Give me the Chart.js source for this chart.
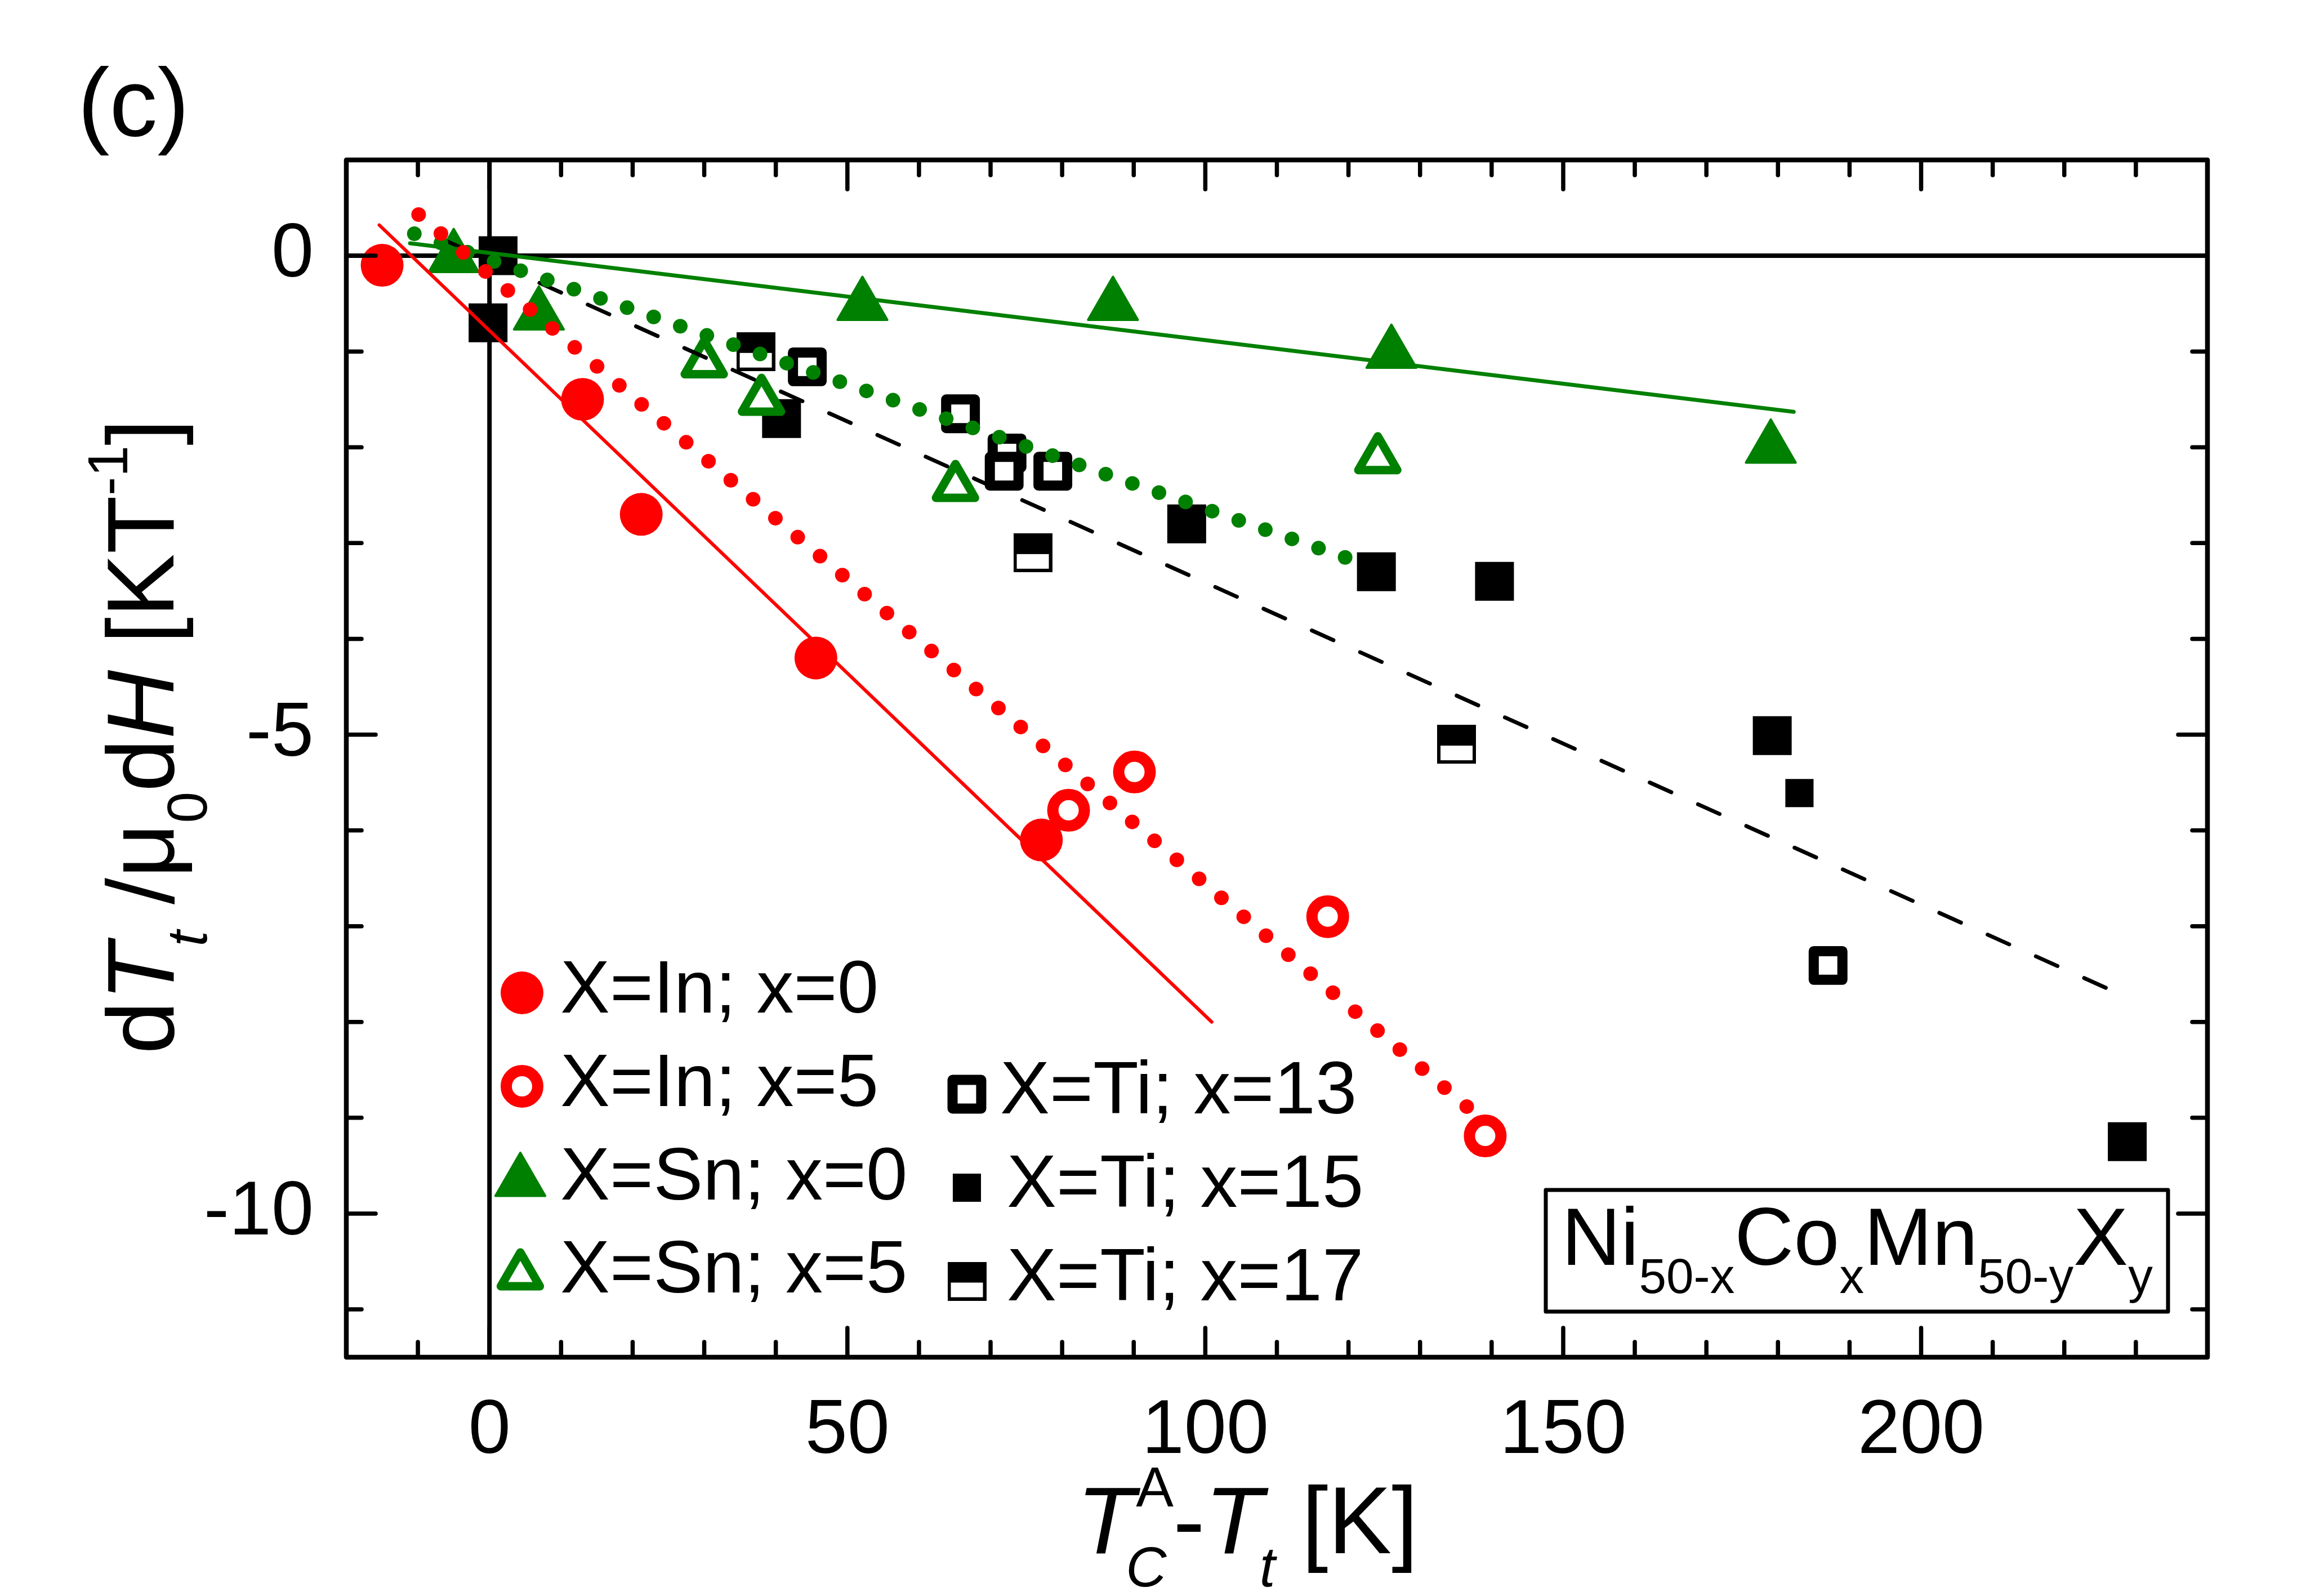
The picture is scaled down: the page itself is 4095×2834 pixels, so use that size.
<!DOCTYPE html>
<html>
<head>
<meta charset="utf-8">
<script src="https://cdn.jsdelivr.net/npm/chart.js@4.4.1/dist/chart.umd.min.js"></script>
<style>
  html, body { margin: 0; padding: 0; background: #fff; }
  canvas { display: block; }
</style>
</head>
<body>
<canvas id="chart" width="4095" height="2834"></canvas>
<script>
// values: x = T_C^A - T_t [K], y = dT_t / mu0 dH [K/T]
const inX0T = [-15.0, 13.0, 21.2, 45.6, 77.1];
const inX0dT = [-0.10, -1.50, -2.70, -4.20, -6.10];

const inX5T = [80.9, 90.1, 117.1, 139.1];
const inX5dT = [-5.79, -5.39, -6.90, -9.19];

const snX0T = [-5.0, 6.9, 52.1, 87.1, 126.0, 179.0];
const snX0dT = [-0.02, -0.62, -0.52, -0.52, -1.02, -2.01];

const snX5T = [30.0, 38.0, 65.1, 124.1];
const snX5dT = [-1.12, -1.51, -2.41, -2.12];

const ti13T = [44.4, 65.8, 72.3, 71.9, 78.7, 187.0];
const ti13dT = [-1.16, -1.65, -2.06, -2.25, -2.25, -7.41];

const ti15T = [183.0];
const ti15dT = [-5.61];

// big filled squares (no own legend entry)
const tiBigT = [1.2, -0.2, 40.8, 97.4, 123.9, 140.4, 179.2, 228.8];
const tiBigdT = [0.0, -0.70, -1.70, -2.80, -3.30, -3.40, -5.01, -9.25];

const ti17T = [37.2, 75.9, 135.1];
const ti17dT = [-1.00, -3.10, -5.10];

// fitted lines (end points)
const inX0FitT = [-15.4, 100.9];
const inX0FitdT = [0.32, -8.0];
const inX5FitT = [-9.9, 137.1];
const inX5FitdT = [0.43, -8.92];
const snX0FitT = [-11.1, 182.2];
const snX0FitdT = [0.13, -1.63];
const snX5FitT = [-10.5, 120.7];
const snX5FitdT = [0.23, -3.18];
const tiFitT = [-6.5, 226.6];
const tiFitdT = [0.17, -7.67];

const xTickValues = [0, 50, 100, 150, 200];
const yTickValues = [-10, -5, 0];

const legendLabels = ["X=In; x=0", "X=In; x=5", "X=Sn; x=0", "X=Sn; x=5", "X=Ti; x=13", "X=Ti; x=15", "X=Ti; x=17"];

const RED = "#ff0000";
const GREEN = "#008000";
const FONT = '"Liberation Sans", Arial, sans-serif';

function toPoints(xs, ys) {
  return xs.map((x, i) => ({ x, y: ys[i] }));
}

// half filled square marker
const halfSquare = (() => {
  const c = document.createElement("canvas");
  c.width = 69;
  c.height = 69;
  const g = c.getContext("2d");
  g.fillStyle = "#000";
  g.fillRect(0, 0, 69, 69);
  g.fillStyle = "#fff";
  g.fillRect(6, 37, 57, 26);
  return c;
})();

const styles = {
  inX0: { pointStyle: "circle", radius: 38, borderWidth: 0, bg: RED, border: RED },
  inX5: { pointStyle: "circle", radius: 28, borderWidth: 20, bg: "#fff", border: RED },
  snX0: { pointStyle: "triangle", radius: 51, borderWidth: 4, bg: GREEN, border: GREEN },
  snX5: { pointStyle: "triangle", radius: 40, borderWidth: 15, bg: "#fff", border: GREEN },
  ti13: { pointStyle: "rect", radius: 36, borderWidth: 18, bg: "#fff", border: "#000" },
  ti15: { pointStyle: "rect", radius: 35.4, borderWidth: 0, bg: "#000", border: "#000" },
  tiBig: { pointStyle: "rect", radius: 48.8, borderWidth: 0, bg: "#000", border: "#000" },
  ti17: { pointStyle: halfSquare, radius: 35, borderWidth: 0, bg: "#000", border: "#000" }
};

function markerSet(label, xs, ys, st, order) {
  return {
    label,
    data: toPoints(xs, ys),
    showLine: false,
    pointStyle: st.pointStyle,
    pointRadius: st.radius,
    pointBorderWidth: st.borderWidth,
    pointBackgroundColor: st.bg,
    pointBorderColor: st.border,
    order
  };
}

function lineSet(xs, ys, color, width, dash, cap) {
  return {
    label: "",
    data: toPoints(xs, ys),
    showLine: true,
    pointRadius: 0,
    borderColor: color,
    borderWidth: width,
    borderDash: dash,
    borderCapStyle: cap,
    tension: 0,
    order: 0
  };
}

function drawRuns(ctx, runs, x, y, k) {
  const s = k || 1;
  let cx = x;
  runs.forEach((r) => {
    ctx.font = (r.it ? "italic " : "") + (r.size * s) + "px " + FONT;
    ctx.fillText(r.t, cx + (r.dx || 0), y + (r.dy || 0));
    cx += ctx.measureText(r.t).width + (r.dx || 0);
  });
  return cx;
}

function runsWidth(ctx, runs) {
  let w = 0;
  runs.forEach((r) => {
    ctx.font = (r.it ? "italic " : "") + r.size + "px " + FONT;
    w += ctx.measureText(r.t).width + (r.dx || 0);
  });
  return w;
}

function drawMarker(ctx, st, x, y) {
  ctx.save();
  ctx.fillStyle = st.bg;
  ctx.strokeStyle = st.border;
  ctx.lineWidth = st.borderWidth;
  ctx.lineJoin = "round";
  Chart.helpers.drawPoint(ctx, { pointStyle: st.pointStyle, radius: st.radius, borderWidth: st.borderWidth, rotation: 0 }, x, y);
  ctx.restore();
}

const framePlugin = {
  id: "framePlugin",
  beforeDatasetsDraw(chart) {
    const { ctx, chartArea: a, scales } = chart;
    const x0 = scales.x.getPixelForValue(0);
    const y0 = scales.y.getPixelForValue(0);
    ctx.save();
    ctx.strokeStyle = "#000";
    ctx.lineWidth = 8;
    ctx.beginPath();
    ctx.moveTo(x0, a.top);
    ctx.lineTo(x0, a.bottom);
    ctx.moveTo(a.left, y0);
    ctx.lineTo(a.right, y0);
    ctx.stroke();
    ctx.restore();
    ctx.lineJoin = "round";
  },
  afterDatasetsDraw(chart) {
    const { ctx, chartArea: a, scales } = chart;
    const xs = scales.x;
    const ys = scales.y;
    ctx.save();
    ctx.strokeStyle = "#000";
    ctx.lineCap = "round";
    ctx.lineWidth = 7.5;
    ctx.beginPath();
    for (let v = Math.ceil(xs.min / 10) * 10; v < xs.max; v += 10) {
      if (v <= xs.min) continue;
      const px = xs.getPixelForValue(v);
      const len = v % 50 === 0 ? 52 : 27;
      ctx.moveTo(px, a.top);
      ctx.lineTo(px, a.top + len);
      ctx.moveTo(px, a.bottom);
      ctx.lineTo(px, a.bottom - len);
    }
    for (let v = Math.ceil(ys.min); v < ys.max; v += 1) {
      if (v <= ys.min) continue;
      const py = ys.getPixelForValue(v);
      const len = v % 5 === 0 ? 52 : 27;
      ctx.moveTo(a.left, py);
      ctx.lineTo(a.left + len, py);
      ctx.moveTo(a.right, py);
      ctx.lineTo(a.right - len, py);
    }
    ctx.stroke();
    ctx.lineWidth = 8.5;
    ctx.lineJoin = "round";
    ctx.strokeRect(a.left, a.top, a.right - a.left, a.bottom - a.top);
    ctx.restore();
  },
  afterDraw(chart) {
    const ctx = chart.ctx;
    ctx.save();
    ctx.fillStyle = "#000";
    ctx.textBaseline = "alphabetic";
    ctx.textAlign = "left";

    // panel label
    ctx.font = "170px " + FONT;
    ctx.fillText("(c)", 138, 241);

    // x title
    let cx = 1912;
    const base = 2758;
    ctx.font = "italic 169px " + FONT;
    ctx.fillText("T", cx, base);
    cx += ctx.measureText("T").width;
    ctx.font = "100px " + FONT;
    ctx.fillText("A", cx + 2, base - 83);
    ctx.font = "italic 100px " + FONT;
    ctx.fillText("C", cx - 16, base + 59);
    cx += 68;
    drawRuns(ctx, [
      { t: "-", size: 169 },
      { t: "T", size: 169, it: true },
      { t: "t", size: 100, it: true, dy: 59, dx: -6 },
      { t: " [K]", size: 169 }
    ], cx, base);

    // y title (rotated)
    const yRuns = [
      { t: "d", size: 169 },
      { t: "T", size: 169, it: true },
      { t: "t", size: 100, it: true, dy: 59, dx: -6 },
      { t: " /\u03bc", size: 169 },
      { t: "0", size: 100, dy: 59 },
      { t: "d", size: 169 },
      { t: "H", size: 169, it: true },
      { t: " [KT", size: 169 },
      { t: "-1", size: 100, dy: -82 },
      { t: "]", size: 169 }
    ];
    const yw = runsWidth(ctx, yRuns);
    ctx.save();
    ctx.translate(308, 1308);
    ctx.rotate(-Math.PI / 2);
    drawRuns(ctx, yRuns, -yw / 2, 0);
    ctx.restore();

    // legend
    const leftCol = [
      [styles.inX0, 927, 1763, 1798],
      [styles.inX5, 927, 1929, 1964],
      [styles.snX0, 924, 2098, 2130],
      [styles.snX5, 924, 2264, 2295]
    ];
    leftCol.forEach((e, i) => {
      drawMarker(ctx, e[0], e[1], e[2]);
      ctx.fillStyle = "#000";
      ctx.font = "132px " + FONT;
      ctx.fillText(legendLabels[i], 995, e[3]);
    });
    const rightCol = [
      [styles.ti13, 1717, 1943, 1776, 1977],
      [styles.ti15, 1717, 2109, 1788, 2143],
      [styles.ti17, 1717, 2275, 1788, 2309]
    ];
    rightCol.forEach((e, i) => {
      drawMarker(ctx, e[0], e[1], e[2]);
      ctx.fillStyle = "#000";
      ctx.font = "132px " + FONT;
      ctx.fillText(legendLabels[4 + i], e[3], e[4]);
    });

    // composition box
    ctx.strokeStyle = "#000";
    ctx.lineWidth = 7;
    ctx.strokeRect(2745, 2113, 1105, 216);
    ctx.fillStyle = "#000";
    const boxRuns = [
      { t: "Ni", size: 150 },
      { t: "50-x", size: 90, dy: 50 },
      { t: "Co", size: 150 },
      { t: "x", size: 90, dy: 50 },
      { t: "Mn", size: 150 },
      { t: "50-y", size: 90, dy: 50 },
      { t: "X", size: 150 },
      { t: "y", size: 90, dy: 50 }
    ];
    const bw = runsWidth(ctx, boxRuns);
    const k = Math.min(1, 1050 / bw);
    drawRuns(ctx, boxRuns, 2773, 2246, k);
    ctx.restore();
  }
};

const datasets = [
  lineSet(inX0FitT, inX0FitdT, RED, 6, [], "round"),
  lineSet(inX5FitT, inX5FitdT, RED, 26, [0, 52], "round"),
  lineSet(snX0FitT, snX0FitdT, GREEN, 7, [], "round"),
  lineSet(snX5FitT, snX5FitdT, GREEN, 26, [0, 50], "round"),
  lineSet(tiFitT, tiFitdT, "#000", 7, [42, 52], "round"),
  markerSet(legendLabels[2], snX0T, snX0dT, styles.snX0, 1),
  markerSet(legendLabels[3], snX5T, snX5dT, styles.snX5, 1),
  markerSet(legendLabels[0], inX0T, inX0dT, styles.inX0, 2),
  markerSet(legendLabels[1], inX5T, inX5dT, styles.inX5, 2),
  markerSet(legendLabels[4], ti13T, ti13dT, styles.ti13, 3),
  markerSet(legendLabels[5], ti15T, ti15dT, styles.ti15, 3),
  markerSet(legendLabels[5], tiBigT, tiBigdT, styles.tiBig, 4),
  markerSet(legendLabels[6], ti17T, ti17dT, styles.ti17, 3)
];

new Chart(document.getElementById("chart").getContext("2d"), {
  type: "scatter",
  data: { datasets },
  options: {
    responsive: false,
    animation: false,
    devicePixelRatio: 1,
    events: [],
    layout: { padding: { top: 284, right: 175, left: 0, bottom: 0 } },
    plugins: {
      legend: { display: false },
      tooltip: { enabled: false }
    },
    scales: {
      x: {
        type: "linear",
        min: -20,
        max: 240,
        afterBuildTicks(scale) {
          scale.ticks = xTickValues.map((v) => ({ value: v }));
        },
        afterFit(scale) {
          scale.height = 424;
        },
        grid: { display: false, drawTicks: false },
        border: { display: false },
        ticks: {
          color: "#000",
          padding: 52,
          maxRotation: 0,
          autoSkip: false,
          font: { family: FONT, size: 135 },
          callback: (v) => String(v)
        }
      },
      y: {
        type: "linear",
        min: -11.5,
        max: 1,
        afterBuildTicks(scale) {
          scale.ticks = yTickValues.map((v) => ({ value: v }));
        },
        afterFit(scale) {
          scale.width = 615;
        },
        grid: { display: false, drawTicks: false },
        border: { display: false },
        ticks: {
          color: "#000",
          padding: 58,
          autoSkip: false,
          font: { family: FONT, size: 135 },
          callback: (v) => String(v)
        }
      }
    }
  },
  plugins: [framePlugin]
});
</script>
</body>
</html>
